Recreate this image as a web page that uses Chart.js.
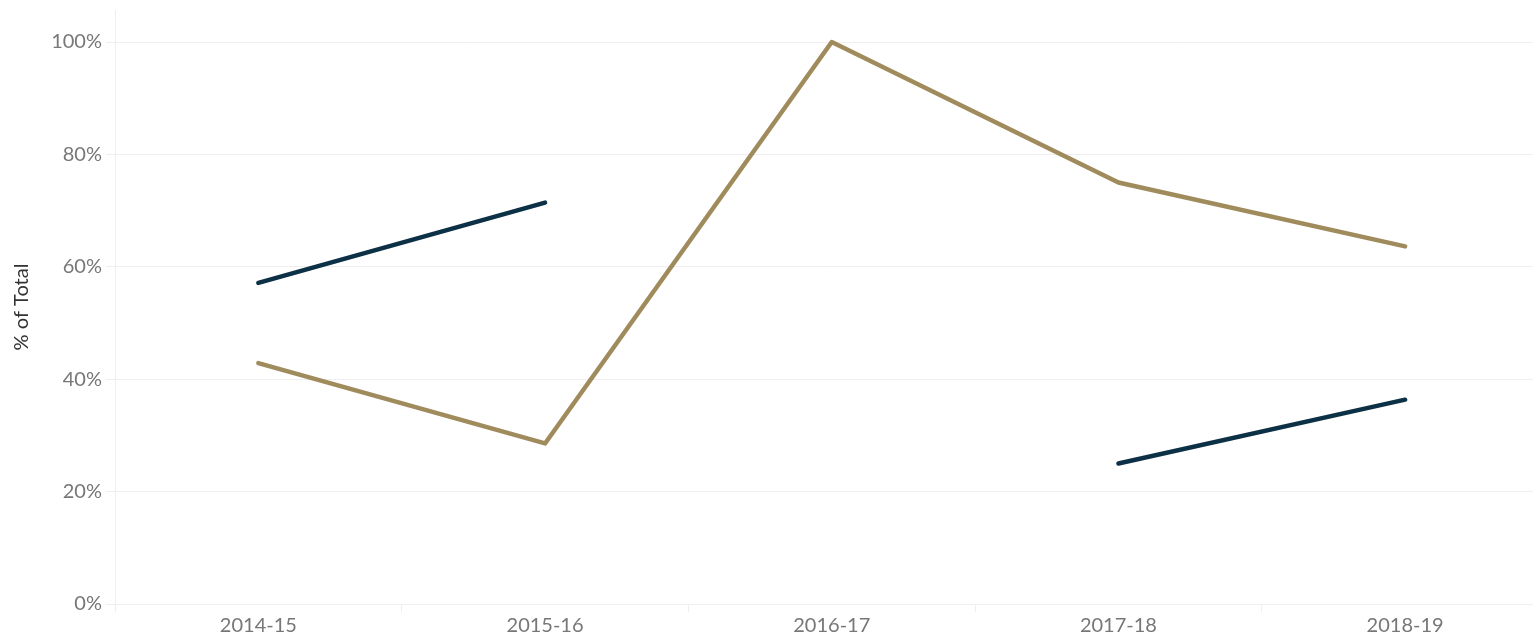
<!DOCTYPE html>
<html>
<head>
<meta charset="utf-8">
<script src="https://cdn.jsdelivr.net/npm/chart.js@4"></script>
<style>
  html, body { margin: 0; padding: 0; background: #fff; }
  #wrap { width: 1533px; height: 636px; }
</style>
</head>
<body>
<div id="wrap"><canvas id="c"></canvas></div>
<script>
const categories = ["2014-15", "2015-16", "2016-17", "2017-18", "2018-19"];
const seriesNavy = [57.14, 71.43, null, 25.0, 36.36];
const seriesGold = [42.86, 28.57, 100.0, 75.0, 63.64];
const yTickValues = [0, 20, 40, 60, 80, 100];

const toPoints = arr => arr.map((v, i) => ({ x: i, y: v }));
const gridColor = '#efefef';

new Chart(document.getElementById('c'), {
  type: 'line',
  data: {
    datasets: [
      {
        label: 'Navy',
        data: toPoints(seriesNavy),
        borderColor: '#0c3045',
        borderWidth: 4.5,
        borderCapStyle: 'round',
        borderJoinStyle: 'round',
        pointRadius: 0,
        spanGaps: false,
        tension: 0
      },
      {
        label: 'Gold',
        data: toPoints(seriesGold),
        borderColor: '#a08b5c',
        borderWidth: 4.5,
        borderCapStyle: 'round',
        borderJoinStyle: 'round',
        pointRadius: 0,
        tension: 0
      }
    ]
  },
  options: {
    responsive: true,
    maintainAspectRatio: false,
    animation: false,
    layout: { padding: { top: 10, right: 0, bottom: 0, left: 0 } },
    plugins: { legend: { display: false }, tooltip: { enabled: false } },
    scales: {
      xb: {
        type: 'linear',
        position: 'bottom',
        weight: 0,
        min: -0.5,
        max: 4.446,
        afterBuildTicks: s => { s.ticks = categories.map((c, i) => ({ value: i - 0.5 })); },
        afterFit: s => { s.height = 8; s.paddingLeft = 0; s.paddingRight = 0; },
        ticks: { display: false },
        grid: { drawOnChartArea: false, drawTicks: true, tickLength: 8, color: gridColor, lineWidth: 1 },
        border: { display: false }
      },
      x: {
        type: 'linear',
        position: 'bottom',
        weight: 1,
        min: -0.5,
        max: 4.446,
        afterBuildTicks: s => { s.ticks = categories.map((c, i) => ({ value: i })); },
        afterFit: s => { s.height = 24; s.paddingLeft = 0; s.paddingRight = 0; },
        ticks: {
          callback: v => categories[v] ?? '',
          color: '#777',
          font: { family: 'Lato', size: 20 },
          maxRotation: 0,
          padding: 2
        },
        grid: { display: false, drawTicks: false },
        border: { display: false }
      },
      y: {
        min: 0,
        max: 105.7,
        afterBuildTicks: s => { s.ticks = yTickValues.map(v => ({ value: v })); },
        afterFit: s => { s.width = 115; s.paddingTop = 0; s.paddingBottom = 0; },
        ticks: {
          callback: v => v + '%',
          color: '#777',
          font: { family: 'Lato', size: 20 },
          padding: 4
        },
        grid: { color: gridColor, lineWidth: 1, tickLength: 9 },
        border: { display: true, color: gridColor, width: 1 },
        title: {
          display: true,
          text: '% of Total',
          color: '#333',
          font: { family: 'Lato', size: 20 },
          padding: { top: 10, bottom: 0 }
        }
      }
    }
  }
});
</script>
</body>
</html>
